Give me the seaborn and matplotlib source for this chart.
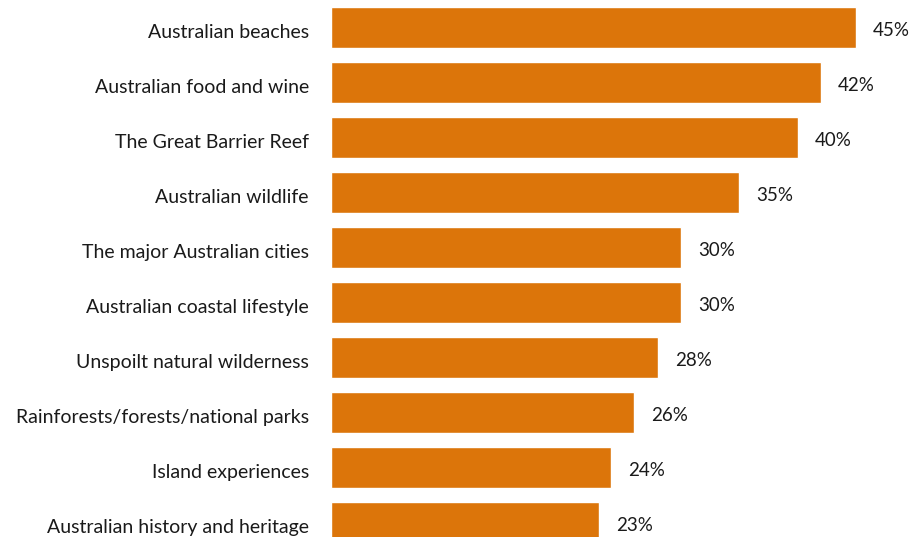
import matplotlib
matplotlib.use("Agg")
import matplotlib.pyplot as plt
import matplotlib.transforms as mtransforms
import seaborn as sns
import pandas as pd

categories = [
    "Australian beaches",
    "Australian food and wine",
    "The Great Barrier Reef",
    "Australian wildlife",
    "The major Australian cities",
    "Australian coastal lifestyle",
    "Unspoilt natural wilderness",
    "Rainforests/forests/national parks",
    "Island experiences",
    "Australian history and heritage",
]
values = [45, 42, 40, 35, 30, 30, 28, 26, 24, 23]
value_labels = ["45%", "42%", "40%", "35%", "30%", "30%", "28%", "26%", "24%", "23%"]

df = pd.DataFrame({"category": categories, "value": values})

sns.set_theme(style="white")
plt.rcParams["font.family"] = ["Lato", "DejaVu Sans"]

fig = plt.figure(figsize=(9.10, 5.37), dpi=100)
ax = fig.add_axes([331 / 910, 0, 1 - 331 / 910, 1])

sns.barplot(data=df, x="value", y="category", orient="h", color="#DC750A",
            saturation=1, width=0.74, ax=ax)

ax.set_xlim(0, (910 - 331) / 11.67)
ax.set_ylim((537 - 27.5) / 55, -0.5)
ax.set_xlabel("")
ax.set_ylabel("")
ax.set_xticks([])
for s in ax.spines.values():
    s.set_visible(False)
ax.set_yticks(range(len(categories)))
ax.set_yticklabels(categories, fontsize=14, color="#1a1a1a", va="center")
ax.tick_params(axis="y", length=0, pad=16)
shift = mtransforms.ScaledTranslation(0, -3.5 / 72, fig.dpi_scale_trans)
for t in ax.get_yticklabels():
    t.set_transform(t.get_transform() + shift)

for i, (v, lab) in enumerate(zip(values, value_labels)):
    ax.annotate(lab, (v, i), xytext=(17, -3), textcoords="offset pixels",
                va="center", ha="left", fontsize=13.5, color="#1a1a1a")

fig.savefig("out.png", dpi=100)
